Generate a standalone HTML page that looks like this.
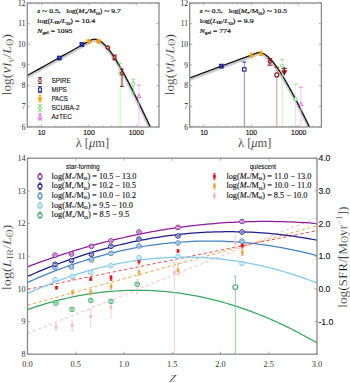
<!DOCTYPE html>
<html><head><meta charset="utf-8"><style>html,body{margin:0;padding:0;background:#fff;}svg{display:block;}</style></head><body>
<svg width="350" height="383" viewBox="0 0 350 383">
<rect width="350" height="383" fill="#fff"/>
<clipPath id="c27"><rect x="27.3" y="3" width="131.7" height="124"/></clipPath>
<g clip-path="url(#c27)">
<path d="M27.3,76.78 L27.74,76.53 L28.18,76.29 L28.62,76.04 L29.06,75.8 L29.5,75.55 L29.94,75.31 L30.38,75.06 L30.82,74.82 L31.26,74.57 L31.7,74.33 L32.15,74.08 L32.59,73.84 L33.03,73.59 L33.47,73.35 L33.91,73.1 L34.35,72.86 L34.79,72.61 L35.23,72.37 L35.67,72.12 L36.11,71.88 L36.55,71.63 L36.99,71.39 L37.43,71.15 L37.87,70.9 L38.31,70.66 L38.75,70.41 L39.19,70.17 L39.63,69.92 L40.07,69.68 L40.51,69.43 L40.95,69.19 L41.39,68.94 L41.84,68.7 L42.28,68.45 L42.72,68.21 L43.16,67.96 L43.6,67.72 L44.04,67.47 L44.48,67.23 L44.92,66.98 L45.36,66.74 L45.8,66.49 L46.24,66.25 L46.68,66 L47.12,65.76 L47.56,65.51 L48,65.27 L48.44,65.02 L48.88,64.78 L49.32,64.53 L49.76,64.29 L50.2,64.04 L50.64,63.8 L51.09,63.55 L51.53,63.31 L51.97,63.06 L52.41,62.82 L52.85,62.57 L53.29,62.33 L53.73,62.08 L54.17,61.84 L54.61,61.59 L55.05,61.35 L55.49,61.1 L55.93,60.86 L56.37,60.61 L56.81,60.37 L57.25,60.12 L57.69,59.88 L58.13,59.63 L58.57,59.39 L59.01,59.14 L59.45,58.9 L59.89,58.66 L60.34,58.41 L60.78,58.17 L61.22,57.92 L61.66,57.68 L62.1,57.43 L62.54,57.19 L62.98,56.94 L63.42,56.7 L63.86,56.45 L64.3,56.21 L64.74,55.96 L65.18,55.72 L65.62,55.47 L66.06,55.23 L66.5,54.98 L66.94,54.74 L67.38,54.49 L67.82,54.25 L68.26,54 L68.7,53.76 L69.14,53.51 L69.58,53.27 L70.03,53.02 L70.47,52.78 L70.91,52.53 L71.35,52.29 L71.79,52.04 L72.23,51.8 L72.67,51.55 L73.11,51.31 L73.55,51.06 L73.99,50.82 L74.43,50.57 L74.87,50.33 L75.31,50.08 L75.75,49.84 L76.19,49.59 L76.63,49.35 L77.07,49.1 L77.51,48.86 L77.95,48.61 L78.39,48.37 L78.83,48.12 L79.28,47.88 L79.72,47.63 L80.16,47.39 L80.6,47.14 L81.04,46.9 L81.48,46.65 L81.92,46.41 L82.36,46.17 L82.8,45.92 L83.24,45.68 L83.68,45.43 L84.12,45.19 L84.56,44.94 L85,44.7 L85.44,44.45 L85.88,44.21 L86.32,43.96 L86.76,43.72 L87.2,43.47 L87.64,43.23 L88.08,42.98 L88.53,42.74 L88.97,42.49 L89.41,42.25 L89.85,42 L90.29,41.76 L90.73,41.51 L91.17,41.29 L91.61,41.1 L92.05,40.94 L92.49,40.81 L92.93,40.7 L93.37,40.62 L93.81,40.57 L94.25,40.54 L94.69,40.54 L95.13,40.56 L95.57,40.61 L96.01,40.68 L96.45,40.77 L96.89,40.89 L97.33,41.03 L97.77,41.19 L98.22,41.36 L98.66,41.56 L99.1,41.78 L99.54,42.02 L99.98,42.28 L100.42,42.56 L100.86,42.86 L101.3,43.17 L101.74,43.5 L102.18,43.85 L102.62,44.21 L103.06,44.59 L103.5,44.98 L103.94,45.39 L104.38,45.82 L104.82,46.26 L105.26,46.71 L105.7,47.18 L106.14,47.66 L106.58,48.15 L107.02,48.66 L107.47,49.18 L107.91,49.71 L108.35,50.25 L108.79,50.81 L109.23,51.37 L109.67,51.95 L110.11,52.54 L110.55,53.14 L110.99,53.74 L111.43,54.36 L111.87,54.99 L112.31,55.62 L112.75,56.27 L113.19,56.92 L113.63,57.58 L114.07,58.26 L114.51,58.93 L114.95,59.62 L115.39,60.31 L115.83,61.02 L116.27,61.73 L116.72,62.44 L117.16,63.16 L117.6,63.89 L118.04,64.63 L118.48,65.37 L118.92,66.12 L119.36,66.87 L119.8,67.63 L120.24,68.4 L120.68,69.17 L121.12,69.95 L121.56,70.73 L122,71.52 L122.44,72.31 L122.88,73.11 L123.32,73.91 L123.76,74.71 L124.2,75.52 L124.64,76.34 L125.08,77.16 L125.52,77.98 L125.96,78.81 L126.41,79.64 L126.85,80.47 L127.29,81.31 L127.73,82.15 L128.17,83 L128.61,83.84 L129.05,84.7 L129.49,85.55 L129.93,86.41 L130.37,87.27 L130.81,88.13 L131.25,89 L131.69,89.87 L132.13,90.74 L132.57,91.62 L133.01,92.5 L133.45,93.38 L133.89,94.26 L134.33,95.14 L134.77,96.03 L135.21,96.92 L135.66,97.81 L136.1,98.71 L136.54,99.6 L136.98,100.5 L137.42,101.4 L137.86,102.3 L138.3,103.21 L138.74,104.11 L139.18,105.02 L139.62,105.93 L140.06,106.84 L140.5,107.75 L140.94,108.67 L141.38,109.59 L141.82,110.5 L142.26,111.42 L142.7,112.34 L143.14,113.26 L143.58,114.19 L144.02,115.11 L144.46,116.04 L144.91,116.97 L145.35,117.9 L145.79,118.83 L146.23,119.76 L146.67,120.69 L147.11,121.62 L147.55,122.56 L147.99,123.49 L148.43,124.43 L148.87,125.37 L149.31,126.31 L149.75,127.25 L150.19,128.19 L150.63,129.13 L151.07,130.07 L151.51,131.02 L151.95,131.96 L152.39,132.91 L152.83,133.85 L153.27,134.8 L153.71,135.75 L154.15,136.7 L154.6,137.65 L155.04,138.6 L155.48,139.55 L155.92,140.5 L156.36,141.45 L156.8,142.4 L157.24,143.36 L157.68,144.31 L158.12,145.27 L158.56,146.22 L159,147.18" fill="none" stroke="#cccccc" stroke-width="3.4"/>
<path d="M27.3,75.48 L27.74,75.23 L28.18,74.99 L28.62,74.74 L29.06,74.5 L29.5,74.25 L29.94,74.01 L30.38,73.76 L30.82,73.52 L31.26,73.27 L31.7,73.03 L32.15,72.78 L32.59,72.54 L33.03,72.29 L33.47,72.05 L33.91,71.8 L34.35,71.56 L34.79,71.31 L35.23,71.07 L35.67,70.82 L36.11,70.58 L36.55,70.33 L36.99,70.09 L37.43,69.85 L37.87,69.6 L38.31,69.36 L38.75,69.11 L39.19,68.87 L39.63,68.62 L40.07,68.38 L40.51,68.13 L40.95,67.89 L41.39,67.64 L41.84,67.4 L42.28,67.15 L42.72,66.91 L43.16,66.66 L43.6,66.42 L44.04,66.17 L44.48,65.93 L44.92,65.68 L45.36,65.44 L45.8,65.19 L46.24,64.95 L46.68,64.7 L47.12,64.46 L47.56,64.21 L48,63.97 L48.44,63.72 L48.88,63.48 L49.32,63.23 L49.76,62.99 L50.2,62.74 L50.64,62.5 L51.09,62.25 L51.53,62.01 L51.97,61.76 L52.41,61.52 L52.85,61.27 L53.29,61.03 L53.73,60.78 L54.17,60.54 L54.61,60.29 L55.05,60.05 L55.49,59.8 L55.93,59.56 L56.37,59.31 L56.81,59.07 L57.25,58.82 L57.69,58.58 L58.13,58.33 L58.57,58.09 L59.01,57.84 L59.45,57.6 L59.89,57.36 L60.34,57.11 L60.78,56.87 L61.22,56.62 L61.66,56.38 L62.1,56.13 L62.54,55.89 L62.98,55.64 L63.42,55.4 L63.86,55.15 L64.3,54.91 L64.74,54.66 L65.18,54.42 L65.62,54.17 L66.06,53.93 L66.5,53.68 L66.94,53.44 L67.38,53.19 L67.82,52.95 L68.26,52.7 L68.7,52.46 L69.14,52.21 L69.58,51.97 L70.03,51.72 L70.47,51.48 L70.91,51.23 L71.35,50.99 L71.79,50.74 L72.23,50.5 L72.67,50.25 L73.11,50.01 L73.55,49.76 L73.99,49.52 L74.43,49.27 L74.87,49.03 L75.31,48.78 L75.75,48.54 L76.19,48.29 L76.63,48.05 L77.07,47.8 L77.51,47.56 L77.95,47.31 L78.39,47.07 L78.83,46.82 L79.28,46.58 L79.72,46.33 L80.16,46.09 L80.6,45.84 L81.04,45.6 L81.48,45.35 L81.92,45.11 L82.36,44.87 L82.8,44.62 L83.24,44.38 L83.68,44.13 L84.12,43.89 L84.56,43.64 L85,43.4 L85.44,43.15 L85.88,42.91 L86.32,42.66 L86.76,42.42 L87.2,42.17 L87.64,41.93 L88.08,41.68 L88.53,41.44 L88.97,41.19 L89.41,40.95 L89.85,40.7 L90.29,40.46 L90.73,40.21 L91.17,39.99 L91.61,39.8 L92.05,39.64 L92.49,39.51 L92.93,39.4 L93.37,39.32 L93.81,39.27 L94.25,39.24 L94.69,39.24 L95.13,39.26 L95.57,39.31 L96.01,39.38 L96.45,39.47 L96.89,39.59 L97.33,39.73 L97.77,39.89 L98.22,40.06 L98.66,40.26 L99.1,40.48 L99.54,40.72 L99.98,40.98 L100.42,41.26 L100.86,41.56 L101.3,41.87 L101.74,42.2 L102.18,42.55 L102.62,42.91 L103.06,43.29 L103.5,43.68 L103.94,44.09 L104.38,44.52 L104.82,44.96 L105.26,45.41 L105.7,45.88 L106.14,46.36 L106.58,46.85 L107.02,47.36 L107.47,47.88 L107.91,48.41 L108.35,48.95 L108.79,49.51 L109.23,50.07 L109.67,50.65 L110.11,51.24 L110.55,51.84 L110.99,52.44 L111.43,53.06 L111.87,53.69 L112.31,54.32 L112.75,54.97 L113.19,55.62 L113.63,56.28 L114.07,56.96 L114.51,57.63 L114.95,58.32 L115.39,59.01 L115.83,59.72 L116.27,60.43 L116.72,61.14 L117.16,61.86 L117.6,62.59 L118.04,63.33 L118.48,64.07 L118.92,64.82 L119.36,65.57 L119.8,66.33 L120.24,67.1 L120.68,67.87 L121.12,68.65 L121.56,69.43 L122,70.22 L122.44,71.01 L122.88,71.81 L123.32,72.61 L123.76,73.41 L124.2,74.22 L124.64,75.04 L125.08,75.86 L125.52,76.68 L125.96,77.51 L126.41,78.34 L126.85,79.17 L127.29,80.01 L127.73,80.85 L128.17,81.7 L128.61,82.54 L129.05,83.4 L129.49,84.25 L129.93,85.11 L130.37,85.97 L130.81,86.83 L131.25,87.7 L131.69,88.57 L132.13,89.44 L132.57,90.32 L133.01,91.2 L133.45,92.08 L133.89,92.96 L134.33,93.84 L134.77,94.73 L135.21,95.62 L135.66,96.51 L136.1,97.41 L136.54,98.3 L136.98,99.2 L137.42,100.1 L137.86,101 L138.3,101.91 L138.74,102.81 L139.18,103.72 L139.62,104.63 L140.06,105.54 L140.5,106.45 L140.94,107.37 L141.38,108.29 L141.82,109.2 L142.26,110.12 L142.7,111.04 L143.14,111.96 L143.58,112.89 L144.02,113.81 L144.46,114.74 L144.91,115.67 L145.35,116.6 L145.79,117.53 L146.23,118.46 L146.67,119.39 L147.11,120.32 L147.55,121.26 L147.99,122.19 L148.43,123.13 L148.87,124.07 L149.31,125.01 L149.75,125.95 L150.19,126.89 L150.63,127.83 L151.07,128.77 L151.51,129.72 L151.95,130.66 L152.39,131.61 L152.83,132.55 L153.27,133.5 L153.71,134.45 L154.15,135.4 L154.6,136.35 L155.04,137.3 L155.48,138.25 L155.92,139.2 L156.36,140.15 L156.8,141.1 L157.24,142.06 L157.68,143.01 L158.12,143.97 L158.56,144.92 L159,145.88" fill="none" stroke="#111" stroke-width="1.25"/>
<rect x="57.4" y="56.1" width="3.8" height="3.8" fill="#1c2290" stroke="#1c2290" stroke-width="0.9"/>
<path d="M58.3,57.6 h2" stroke="#8a90d0" stroke-width="0.6"/>
<rect x="80" y="42.5" width="3.8" height="3.8" fill="#1c2290" stroke="#1c2290" stroke-width="0.9"/>
<path d="M80.9,44 h2" stroke="#8a90d0" stroke-width="0.6"/>
<path d="M88.8,38.9 l2.4,2.4 l-2.4,2.4 l-2.4,-2.4 z" fill="#f5a000" stroke="#f5a000" stroke-width="0.6"/>
<path d="M86.8,39.4 h4 M86.8,43.2 h4" stroke="#f5a000" stroke-width="0.8"/>
<path d="M98.5,38.9 l2.4,2.4 l-2.4,2.4 l-2.4,-2.4 z" fill="#f5a000" stroke="#f5a000" stroke-width="0.6"/>
<path d="M96.5,39.4 h4 M96.5,43.2 h4" stroke="#f5a000" stroke-width="0.8"/>
<circle cx="107.8" cy="47.6" r="1.8" fill="#fff" stroke="#8e1212" stroke-width="1.2"/>
<path d="M106.6,46.9 h2.4 M106.6,48.3 h2.4" stroke="#8e1212" stroke-width="0.7"/>
<path d="M114.6,55 V59.8" stroke="#8e1212" stroke-width="1.0" fill="none"/>
<path d="M112.3,55 h4.6 M112.3,59.8 h4.6" stroke="#8e1212" stroke-width="1.0" fill="none"/>
<circle cx="114.6" cy="57.4" r="1.6" fill="#fff" stroke="#8e1212" stroke-width="1.1"/>
<path d="M113.6,56.7 h2 M113.6,58.1 h2" stroke="#8e1212" stroke-width="0.7"/>
<path d="M120.2,63.1 V130" stroke="#b8f0b8" stroke-width="0.8" fill="none"/>
<path d="M118.3,63.1 h3.8 M118.3,130 h3.8" stroke="#66dd66" stroke-width="0.8" fill="none"/>
<path d="M122,69.1 V86.4" stroke="#8e1212" stroke-width="1.0" fill="none"/>
<path d="M120.1,69.1 h3.8 M120.1,86.4 h3.8" stroke="#8e1212" stroke-width="1.0" fill="none"/>
<circle cx="120.4" cy="73.4" r="1.7" fill="none" stroke="#66dd66" stroke-width="0.9"/>
<circle cx="122" cy="73.4" r="1.7" fill="none" stroke="#8e1212" stroke-width="1.0"/>
<path d="M133.3,79.1 V94.4" stroke="#66dd66" stroke-width="0.8" fill="none"/>
<path d="M131.5,79.1 h3.6 M131.5,94.4 h3.6" stroke="#66dd66" stroke-width="0.8" fill="none"/>
<circle cx="133.3" cy="83.8" r="1.7" fill="#fff" stroke="#66dd66" stroke-width="0.9"/>
<path d="M138.9,85.2 V130" stroke="#f2b4f2" stroke-width="0.8" fill="none"/>
<path d="M137,85.2 h3.8 M137,130 h3.8" stroke="#e060e0" stroke-width="0.8" fill="none"/>
<path d="M138.9,94 L140.9,97.6 L136.9,97.6 z" fill="#fff" stroke="#e060e0" stroke-width="0.9"/>
</g>
<rect x="27.3" y="3" width="131.7" height="124" fill="none" stroke="#8a8a8a" stroke-width="1.3"/>
<path d="M27.3,127 h2.5 M159,127 h-2.5" stroke="#8a8a8a" stroke-width="0.7"/>
<text x="25.6" y="129.5" font-family='"Liberation Serif", serif' font-size="7.5" text-anchor="end" font-weight="normal" font-style="normal" fill="#222" >6</text>
<path d="M27.3,106.33 h2.5 M159,106.33 h-2.5" stroke="#8a8a8a" stroke-width="0.7"/>
<text x="25.6" y="108.83" font-family='"Liberation Serif", serif' font-size="7.5" text-anchor="end" font-weight="normal" font-style="normal" fill="#222" >7</text>
<path d="M27.3,85.67 h2.5 M159,85.67 h-2.5" stroke="#8a8a8a" stroke-width="0.7"/>
<text x="25.6" y="88.17" font-family='"Liberation Serif", serif' font-size="7.5" text-anchor="end" font-weight="normal" font-style="normal" fill="#222" >8</text>
<path d="M27.3,65 h2.5 M159,65 h-2.5" stroke="#8a8a8a" stroke-width="0.7"/>
<text x="25.6" y="67.5" font-family='"Liberation Serif", serif' font-size="7.5" text-anchor="end" font-weight="normal" font-style="normal" fill="#222" >9</text>
<path d="M27.3,44.33 h2.5 M159,44.33 h-2.5" stroke="#8a8a8a" stroke-width="0.7"/>
<text x="25.6" y="46.83" font-family='"Liberation Serif", serif' font-size="7.5" text-anchor="end" font-weight="normal" font-style="normal" fill="#222" >10</text>
<path d="M27.3,23.67 h2.5 M159,23.67 h-2.5" stroke="#8a8a8a" stroke-width="0.7"/>
<text x="25.6" y="26.17" font-family='"Liberation Serif", serif' font-size="7.5" text-anchor="end" font-weight="normal" font-style="normal" fill="#222" >11</text>
<path d="M27.3,3 h2.5 M159,3 h-2.5" stroke="#8a8a8a" stroke-width="0.7"/>
<text x="25.6" y="5.5" font-family='"Liberation Serif", serif' font-size="7.5" text-anchor="end" font-weight="normal" font-style="normal" fill="#222" >12</text>
<path d="M27.3,127 v-1.4 M27.3,3 v1.4" stroke="#8a8a8a" stroke-width="0.6"/>
<path d="M31.05,127 v-1.4 M31.05,3 v1.4" stroke="#8a8a8a" stroke-width="0.6"/>
<path d="M34.23,127 v-1.4 M34.23,3 v1.4" stroke="#8a8a8a" stroke-width="0.6"/>
<path d="M36.98,127 v-1.4 M36.98,3 v1.4" stroke="#8a8a8a" stroke-width="0.6"/>
<path d="M39.4,127 v-1.4 M39.4,3 v1.4" stroke="#8a8a8a" stroke-width="0.6"/>
<path d="M41.57,127 v-2.6 M41.57,3 v2.6" stroke="#8a8a8a" stroke-width="0.6"/>
<path d="M55.84,127 v-1.4 M55.84,3 v1.4" stroke="#8a8a8a" stroke-width="0.6"/>
<path d="M64.19,127 v-1.4 M64.19,3 v1.4" stroke="#8a8a8a" stroke-width="0.6"/>
<path d="M70.11,127 v-1.4 M70.11,3 v1.4" stroke="#8a8a8a" stroke-width="0.6"/>
<path d="M74.71,127 v-1.4 M74.71,3 v1.4" stroke="#8a8a8a" stroke-width="0.6"/>
<path d="M78.46,127 v-1.4 M78.46,3 v1.4" stroke="#8a8a8a" stroke-width="0.6"/>
<path d="M81.63,127 v-1.4 M81.63,3 v1.4" stroke="#8a8a8a" stroke-width="0.6"/>
<path d="M84.38,127 v-1.4 M84.38,3 v1.4" stroke="#8a8a8a" stroke-width="0.6"/>
<path d="M86.81,127 v-1.4 M86.81,3 v1.4" stroke="#8a8a8a" stroke-width="0.6"/>
<path d="M88.98,127 v-2.6 M88.98,3 v2.6" stroke="#8a8a8a" stroke-width="0.6"/>
<path d="M103.25,127 v-1.4 M103.25,3 v1.4" stroke="#8a8a8a" stroke-width="0.6"/>
<path d="M111.59,127 v-1.4 M111.59,3 v1.4" stroke="#8a8a8a" stroke-width="0.6"/>
<path d="M117.52,127 v-1.4 M117.52,3 v1.4" stroke="#8a8a8a" stroke-width="0.6"/>
<path d="M122.11,127 v-1.4 M122.11,3 v1.4" stroke="#8a8a8a" stroke-width="0.6"/>
<path d="M125.86,127 v-1.4 M125.86,3 v1.4" stroke="#8a8a8a" stroke-width="0.6"/>
<path d="M129.04,127 v-1.4 M129.04,3 v1.4" stroke="#8a8a8a" stroke-width="0.6"/>
<path d="M131.79,127 v-1.4 M131.79,3 v1.4" stroke="#8a8a8a" stroke-width="0.6"/>
<path d="M134.21,127 v-1.4 M134.21,3 v1.4" stroke="#8a8a8a" stroke-width="0.6"/>
<path d="M136.38,127 v-2.6 M136.38,3 v2.6" stroke="#8a8a8a" stroke-width="0.6"/>
<path d="M150.65,127 v-1.4 M150.65,3 v1.4" stroke="#8a8a8a" stroke-width="0.6"/>
<path d="M159,127 v-1.4 M159,3 v1.4" stroke="#8a8a8a" stroke-width="0.6"/>
<text x="41.57" y="135" font-family='"Liberation Sans", sans-serif' font-size="6.9" text-anchor="middle" font-weight="normal" font-style="normal" fill="#111" stroke="#111" stroke-width="0.15">10</text>
<text x="88.98" y="135" font-family='"Liberation Sans", sans-serif' font-size="6.9" text-anchor="middle" font-weight="normal" font-style="normal" fill="#111" stroke="#111" stroke-width="0.15">100</text>
<text x="136.38" y="135" font-family='"Liberation Sans", sans-serif' font-size="6.9" text-anchor="middle" font-weight="normal" font-style="normal" fill="#111" stroke="#111" stroke-width="0.15">1000</text>
<text x="92.35" y="146.6" font-family='"Liberation Serif", serif' font-size="12.8" text-anchor="middle" font-weight="normal" font-style="normal" fill="#111" textLength="33.4" lengthAdjust="spacingAndGlyphs" stroke="#fff" stroke-width="0.2">λ [<tspan font-style="italic">μ</tspan>m]</text>
<text x="37.3" y="13.3" font-family='"Liberation Serif", serif' font-size="7" text-anchor="start" font-weight="normal" font-style="normal" fill="#111" textLength="83.5" lengthAdjust="spacingAndGlyphs" stroke="#111" stroke-width="0.2"><tspan font-style="italic">z</tspan> <tspan font-size="9" dy="0.8">~</tspan><tspan dy="-0.8"> 0.5,&#160;&#160; log(<tspan font-style="italic">M</tspan><tspan font-size="4.6" dy="1.2">*</tspan><tspan dy="-1.2">/M<tspan font-size="5" dy="1.3">ʘ</tspan><tspan dy="-1.3">) </tspan></tspan><tspan font-size="9" dy="0.8">~</tspan><tspan dy="-0.8"> 9.7</tspan></tspan></tspan></text>
<text x="37.3" y="23.3" font-family='"Liberation Serif", serif' font-size="7" text-anchor="start" font-weight="normal" font-style="normal" fill="#111" textLength="58" lengthAdjust="spacingAndGlyphs" stroke="#111" stroke-width="0.2">log(<tspan font-style="italic">L</tspan><tspan font-size="4.6" dy="1.0">IR</tspan><tspan dy="-1.0">/<tspan font-style="italic">L</tspan><tspan font-size="5" dy="1.3">ʘ</tspan><tspan dy="-1.3">)&#160;=&#160;10.4</tspan></tspan></text>
<text x="37.3" y="33.3" font-family='"Liberation Serif", serif' font-size="7" text-anchor="start" font-weight="normal" font-style="normal" fill="#111" textLength="35" lengthAdjust="spacingAndGlyphs" stroke="#111" stroke-width="0.2"><tspan font-style="italic">N</tspan><tspan font-size="4.8" dy="1.0">gal</tspan><tspan dy="-1.0">&#160;=&#160;1095</tspan></text>
<path d="M40,77.5 V83.5" stroke="#8e1212" stroke-width="0.9" fill="none"/>
<path d="M38.1,77.5 h3.8 M38.1,83.5 h3.8" stroke="#8e1212" stroke-width="0.9" fill="none"/>
<circle cx="40" cy="80.5" r="1.6" fill="#fff" stroke="#8e1212" stroke-width="1.0"/>
<text x="51.4" y="83" font-family='"Liberation Sans", sans-serif' font-size="7" text-anchor="start" font-weight="normal" font-style="normal" fill="#111" textLength="19.4" lengthAdjust="spacingAndGlyphs" stroke="#111" stroke-width="0.12">SPIRE</text>
<path d="M40,86.62 V92.62" stroke="#1c2290" stroke-width="0.9" fill="none"/>
<path d="M38.1,86.62 h3.8 M38.1,92.62 h3.8" stroke="#1c2290" stroke-width="0.9" fill="none"/>
<rect x="38.4" y="88.02" width="3.2" height="3.2" fill="#fff" stroke="#1c2290" stroke-width="1.0"/>
<text x="51.4" y="92.12" font-family='"Liberation Sans", sans-serif' font-size="7" text-anchor="start" font-weight="normal" font-style="normal" fill="#111" textLength="15.4" lengthAdjust="spacingAndGlyphs" stroke="#111" stroke-width="0.12">MIPS</text>
<path d="M40,95.74 V101.74" stroke="#f5a000" stroke-width="0.9" fill="none"/>
<path d="M38.1,95.74 h3.8 M38.1,101.74 h3.8" stroke="#f5a000" stroke-width="0.9" fill="none"/>
<path d="M40,96.64 l2.1,2.1 l-2.1,2.1 l-2.1,-2.1 z" fill="#f5a000" stroke="#f5a000" stroke-width="0.6"/>
<text x="51.4" y="101.24" font-family='"Liberation Sans", sans-serif' font-size="7" text-anchor="start" font-weight="normal" font-style="normal" fill="#111" textLength="16.6" lengthAdjust="spacingAndGlyphs" stroke="#111" stroke-width="0.12">PACS</text>
<path d="M40,104.86 V110.86" stroke="#66dd66" stroke-width="0.9" fill="none"/>
<path d="M38.1,104.86 h3.8 M38.1,110.86 h3.8" stroke="#66dd66" stroke-width="0.9" fill="none"/>
<circle cx="40" cy="107.86" r="1.6" fill="#fff" stroke="#66dd66" stroke-width="1.0"/>
<text x="51.4" y="110.36" font-family='"Liberation Sans", sans-serif' font-size="7" text-anchor="start" font-weight="normal" font-style="normal" fill="#111" textLength="28.3" lengthAdjust="spacingAndGlyphs" stroke="#111" stroke-width="0.12">SCUBA-2</text>
<path d="M40,113.98 V119.98" stroke="#e060e0" stroke-width="0.9" fill="none"/>
<path d="M38.1,113.98 h3.8 M38.1,119.98 h3.8" stroke="#e060e0" stroke-width="0.9" fill="none"/>
<path d="M40,114.98 L42,118.58 L38,118.58 z" fill="#fff" stroke="#e060e0" stroke-width="0.9"/>
<text x="51.4" y="119.48" font-family='"Liberation Sans", sans-serif' font-size="7" text-anchor="start" font-weight="normal" font-style="normal" fill="#111" textLength="20.6" lengthAdjust="spacingAndGlyphs" stroke="#111" stroke-width="0.12">AzTEC</text>
<clipPath id="c189"><rect x="189.7" y="3" width="131.7" height="124"/></clipPath>
<g clip-path="url(#c189)">
<path d="M189.7,79.23 L190.14,79.07 L190.58,78.9 L191.02,78.74 L191.46,78.57 L191.9,78.41 L192.34,78.25 L192.78,78.08 L193.22,77.92 L193.66,77.76 L194.1,77.59 L194.55,77.43 L194.99,77.26 L195.43,77.1 L195.87,76.94 L196.31,76.77 L196.75,76.61 L197.19,76.45 L197.63,76.28 L198.07,76.12 L198.51,75.96 L198.95,75.79 L199.39,75.63 L199.83,75.46 L200.27,75.3 L200.71,75.14 L201.15,74.97 L201.59,74.81 L202.03,74.65 L202.47,74.48 L202.91,74.32 L203.35,74.16 L203.79,73.99 L204.24,73.83 L204.68,73.66 L205.12,73.5 L205.56,73.34 L206,73.17 L206.44,73.01 L206.88,72.85 L207.32,72.68 L207.76,72.52 L208.2,72.35 L208.64,72.19 L209.08,72.03 L209.52,71.86 L209.96,71.7 L210.4,71.54 L210.84,71.37 L211.28,71.21 L211.72,71.05 L212.16,70.88 L212.6,70.72 L213.04,70.55 L213.49,70.39 L213.93,70.23 L214.37,70.06 L214.81,69.9 L215.25,69.74 L215.69,69.57 L216.13,69.41 L216.57,69.25 L217.01,69.08 L217.45,68.92 L217.89,68.75 L218.33,68.59 L218.77,68.43 L219.21,68.26 L219.65,68.1 L220.09,67.94 L220.53,67.77 L220.97,67.61 L221.41,67.44 L221.85,67.28 L222.29,67.12 L222.74,66.95 L223.18,66.79 L223.62,66.63 L224.06,66.46 L224.5,66.3 L224.94,66.14 L225.38,65.97 L225.82,65.81 L226.26,65.64 L226.7,65.48 L227.14,65.32 L227.58,65.15 L228.02,64.99 L228.46,64.83 L228.9,64.66 L229.34,64.5 L229.78,64.33 L230.22,64.17 L230.66,64.01 L231.1,63.84 L231.54,63.68 L231.98,63.52 L232.43,63.35 L232.87,63.19 L233.31,63.03 L233.75,62.86 L234.19,62.7 L234.63,62.53 L235.07,62.37 L235.51,62.21 L235.95,62.04 L236.39,61.88 L236.83,61.72 L237.27,61.55 L237.71,61.39 L238.15,61.23 L238.59,61.06 L239.03,60.9 L239.47,60.73 L239.91,60.57 L240.35,60.41 L240.79,60.24 L241.23,60.08 L241.68,59.92 L242.12,59.75 L242.56,59.59 L243,59.42 L243.44,59.26 L243.88,59.1 L244.32,58.93 L244.76,58.77 L245.2,58.61 L245.64,58.44 L246.08,58.28 L246.52,58.12 L246.96,57.95 L247.4,57.79 L247.84,57.62 L248.28,57.46 L248.72,57.3 L249.16,57.13 L249.6,56.97 L250.04,56.81 L250.48,56.64 L250.93,56.48 L251.37,56.32 L251.81,56.15 L252.25,55.99 L252.69,55.82 L253.13,55.66 L253.57,55.5 L254.01,55.33 L254.45,55.17 L254.89,55.01 L255.33,54.84 L255.77,54.68 L256.21,54.51 L256.65,54.35 L257.09,54.22 L257.53,54.11 L257.97,54.02 L258.41,53.97 L258.85,53.93 L259.29,53.93 L259.73,53.94 L260.17,53.98 L260.62,54.05 L261.06,54.13 L261.5,54.24 L261.94,54.37 L262.38,54.52 L262.82,54.69 L263.26,54.88 L263.7,55.1 L264.14,55.33 L264.58,55.58 L265.02,55.84 L265.46,56.13 L265.9,56.43 L266.34,56.75 L266.78,57.09 L267.22,57.44 L267.66,57.81 L268.1,58.19 L268.54,58.59 L268.98,59 L269.42,59.43 L269.87,59.87 L270.31,60.33 L270.75,60.79 L271.19,61.27 L271.63,61.77 L272.07,62.27 L272.51,62.79 L272.95,63.32 L273.39,63.86 L273.83,64.41 L274.27,64.97 L274.71,65.55 L275.15,66.13 L275.59,66.72 L276.03,67.32 L276.47,67.93 L276.91,68.56 L277.35,69.18 L277.79,69.82 L278.23,70.47 L278.67,71.12 L279.12,71.79 L279.56,72.46 L280,73.13 L280.44,73.82 L280.88,74.51 L281.32,75.21 L281.76,75.91 L282.2,76.63 L282.64,77.35 L283.08,78.07 L283.52,78.8 L283.96,79.54 L284.4,80.28 L284.84,81.03 L285.28,81.78 L285.72,82.54 L286.16,83.3 L286.6,84.07 L287.04,84.85 L287.48,85.62 L287.92,86.41 L288.36,87.19 L288.81,87.99 L289.25,88.78 L289.69,89.58 L290.13,90.39 L290.57,91.19 L291.01,92.01 L291.45,92.82 L291.89,93.64 L292.33,94.46 L292.77,95.29 L293.21,96.12 L293.65,96.95 L294.09,97.79 L294.53,98.62 L294.97,99.47 L295.41,100.31 L295.85,101.16 L296.29,102.01 L296.73,102.86 L297.17,103.72 L297.61,104.57 L298.06,105.43 L298.5,106.3 L298.94,107.16 L299.38,108.03 L299.82,108.9 L300.26,109.77 L300.7,110.64 L301.14,111.52 L301.58,112.4 L302.02,113.28 L302.46,114.16 L302.9,115.04 L303.34,115.93 L303.78,116.82 L304.22,117.71 L304.66,118.6 L305.1,119.49 L305.54,120.38 L305.98,121.28 L306.42,122.18 L306.86,123.08 L307.31,123.98 L307.75,124.88 L308.19,125.78 L308.63,126.68 L309.07,127.59 L309.51,128.5 L309.95,129.41 L310.39,130.31 L310.83,131.23 L311.27,132.14 L311.71,133.05 L312.15,133.96 L312.59,134.88 L313.03,135.79 L313.47,136.71 L313.91,137.63 L314.35,138.55 L314.79,139.47 L315.23,140.39 L315.67,141.31 L316.11,142.24 L316.55,143.16 L317,144.08 L317.44,145.01 L317.88,145.94 L318.32,146.86 L318.76,147.79 L319.2,148.72 L319.64,149.65 L320.08,150.58 L320.52,151.51 L320.96,152.44 L321.4,153.37" fill="none" stroke="#cccccc" stroke-width="3.4"/>
<path d="M189.7,77.93 L190.14,77.77 L190.58,77.6 L191.02,77.44 L191.46,77.27 L191.9,77.11 L192.34,76.95 L192.78,76.78 L193.22,76.62 L193.66,76.46 L194.1,76.29 L194.55,76.13 L194.99,75.96 L195.43,75.8 L195.87,75.64 L196.31,75.47 L196.75,75.31 L197.19,75.15 L197.63,74.98 L198.07,74.82 L198.51,74.66 L198.95,74.49 L199.39,74.33 L199.83,74.16 L200.27,74 L200.71,73.84 L201.15,73.67 L201.59,73.51 L202.03,73.35 L202.47,73.18 L202.91,73.02 L203.35,72.86 L203.79,72.69 L204.24,72.53 L204.68,72.36 L205.12,72.2 L205.56,72.04 L206,71.87 L206.44,71.71 L206.88,71.55 L207.32,71.38 L207.76,71.22 L208.2,71.05 L208.64,70.89 L209.08,70.73 L209.52,70.56 L209.96,70.4 L210.4,70.24 L210.84,70.07 L211.28,69.91 L211.72,69.75 L212.16,69.58 L212.6,69.42 L213.04,69.25 L213.49,69.09 L213.93,68.93 L214.37,68.76 L214.81,68.6 L215.25,68.44 L215.69,68.27 L216.13,68.11 L216.57,67.95 L217.01,67.78 L217.45,67.62 L217.89,67.45 L218.33,67.29 L218.77,67.13 L219.21,66.96 L219.65,66.8 L220.09,66.64 L220.53,66.47 L220.97,66.31 L221.41,66.14 L221.85,65.98 L222.29,65.82 L222.74,65.65 L223.18,65.49 L223.62,65.33 L224.06,65.16 L224.5,65 L224.94,64.84 L225.38,64.67 L225.82,64.51 L226.26,64.34 L226.7,64.18 L227.14,64.02 L227.58,63.85 L228.02,63.69 L228.46,63.53 L228.9,63.36 L229.34,63.2 L229.78,63.03 L230.22,62.87 L230.66,62.71 L231.1,62.54 L231.54,62.38 L231.98,62.22 L232.43,62.05 L232.87,61.89 L233.31,61.73 L233.75,61.56 L234.19,61.4 L234.63,61.23 L235.07,61.07 L235.51,60.91 L235.95,60.74 L236.39,60.58 L236.83,60.42 L237.27,60.25 L237.71,60.09 L238.15,59.93 L238.59,59.76 L239.03,59.6 L239.47,59.43 L239.91,59.27 L240.35,59.11 L240.79,58.94 L241.23,58.78 L241.68,58.62 L242.12,58.45 L242.56,58.29 L243,58.12 L243.44,57.96 L243.88,57.8 L244.32,57.63 L244.76,57.47 L245.2,57.31 L245.64,57.14 L246.08,56.98 L246.52,56.82 L246.96,56.65 L247.4,56.49 L247.84,56.32 L248.28,56.16 L248.72,56 L249.16,55.83 L249.6,55.67 L250.04,55.51 L250.48,55.34 L250.93,55.18 L251.37,55.02 L251.81,54.85 L252.25,54.69 L252.69,54.52 L253.13,54.36 L253.57,54.2 L254.01,54.03 L254.45,53.87 L254.89,53.71 L255.33,53.54 L255.77,53.38 L256.21,53.21 L256.65,53.05 L257.09,52.92 L257.53,52.81 L257.97,52.72 L258.41,52.67 L258.85,52.63 L259.29,52.63 L259.73,52.64 L260.17,52.68 L260.62,52.75 L261.06,52.83 L261.5,52.94 L261.94,53.07 L262.38,53.22 L262.82,53.39 L263.26,53.58 L263.7,53.8 L264.14,54.03 L264.58,54.28 L265.02,54.54 L265.46,54.83 L265.9,55.13 L266.34,55.45 L266.78,55.79 L267.22,56.14 L267.66,56.51 L268.1,56.89 L268.54,57.29 L268.98,57.7 L269.42,58.13 L269.87,58.57 L270.31,59.03 L270.75,59.49 L271.19,59.97 L271.63,60.47 L272.07,60.97 L272.51,61.49 L272.95,62.02 L273.39,62.56 L273.83,63.11 L274.27,63.67 L274.71,64.25 L275.15,64.83 L275.59,65.42 L276.03,66.02 L276.47,66.63 L276.91,67.26 L277.35,67.88 L277.79,68.52 L278.23,69.17 L278.67,69.82 L279.12,70.49 L279.56,71.16 L280,71.83 L280.44,72.52 L280.88,73.21 L281.32,73.91 L281.76,74.61 L282.2,75.33 L282.64,76.05 L283.08,76.77 L283.52,77.5 L283.96,78.24 L284.4,78.98 L284.84,79.73 L285.28,80.48 L285.72,81.24 L286.16,82 L286.6,82.77 L287.04,83.55 L287.48,84.32 L287.92,85.11 L288.36,85.89 L288.81,86.69 L289.25,87.48 L289.69,88.28 L290.13,89.09 L290.57,89.89 L291.01,90.71 L291.45,91.52 L291.89,92.34 L292.33,93.16 L292.77,93.99 L293.21,94.82 L293.65,95.65 L294.09,96.49 L294.53,97.32 L294.97,98.17 L295.41,99.01 L295.85,99.86 L296.29,100.71 L296.73,101.56 L297.17,102.42 L297.61,103.27 L298.06,104.13 L298.5,105 L298.94,105.86 L299.38,106.73 L299.82,107.6 L300.26,108.47 L300.7,109.34 L301.14,110.22 L301.58,111.1 L302.02,111.98 L302.46,112.86 L302.9,113.74 L303.34,114.63 L303.78,115.52 L304.22,116.41 L304.66,117.3 L305.1,118.19 L305.54,119.08 L305.98,119.98 L306.42,120.88 L306.86,121.78 L307.31,122.68 L307.75,123.58 L308.19,124.48 L308.63,125.38 L309.07,126.29 L309.51,127.2 L309.95,128.11 L310.39,129.01 L310.83,129.93 L311.27,130.84 L311.71,131.75 L312.15,132.66 L312.59,133.58 L313.03,134.49 L313.47,135.41 L313.91,136.33 L314.35,137.25 L314.79,138.17 L315.23,139.09 L315.67,140.01 L316.11,140.94 L316.55,141.86 L317,142.78 L317.44,143.71 L317.88,144.64 L318.32,145.56 L318.76,146.49 L319.2,147.42 L319.64,148.35 L320.08,149.28 L320.52,150.21 L320.96,151.14 L321.4,152.07" fill="none" stroke="#111" stroke-width="1.25"/>
<rect x="219.4" y="64.2" width="3.8" height="3.8" fill="#1c2290" stroke="#1c2290" stroke-width="0.9"/>
<path d="M220.3,65.7 h2" stroke="#8a90d0" stroke-width="0.6"/>
<path d="M244.3,62 V130" stroke="#7474d2" stroke-width="0.9" fill="none"/>
<path d="M242.3,62 h4 M242.3,130 h4" stroke="#1c2290" stroke-width="0.9" fill="none"/>
<rect x="242.6" y="67.7" width="3.4" height="3.4" fill="#fff" stroke="#1c2290" stroke-width="1.1"/>
<path d="M251.3,53 V57.4" stroke="#f5a000" stroke-width="0.9" fill="none"/>
<path d="M249.6,53 h3.4 M249.6,57.4 h3.4" stroke="#f5a000" stroke-width="0.9" fill="none"/>
<path d="M251.3,53.3 l1.9,1.9 l-1.9,1.9 l-1.9,-1.9 z" fill="#f5a000" stroke="#f5a000" stroke-width="0.6"/>
<path d="M260.9,51.1 V55.5" stroke="#f5a000" stroke-width="0.9" fill="none"/>
<path d="M259.2,51.1 h3.4 M259.2,55.5 h3.4" stroke="#f5a000" stroke-width="0.9" fill="none"/>
<path d="M260.9,51.4 l1.9,1.9 l-1.9,1.9 l-1.9,-1.9 z" fill="#f5a000" stroke="#f5a000" stroke-width="0.6"/>
<path d="M269.8,58.6 V65.2" stroke="#8e1212" stroke-width="1.0" fill="none"/>
<path d="M267.3,58.6 h5 M267.3,65.2 h5" stroke="#8e1212" stroke-width="1.0" fill="none"/>
<circle cx="269.8" cy="61.7" r="1.6" fill="#fff" stroke="#8e1212" stroke-width="1.1"/>
<path d="M268.8,61 h2 M268.8,62.4 h2" stroke="#8e1212" stroke-width="0.7"/>
<path d="M276.8,67.3 V130" stroke="#d38c8c" stroke-width="0.9" fill="none"/>
<path d="M274.6,67.3 h4.4 M274.6,130 h4.4" stroke="#8e1212" stroke-width="0.9" fill="none"/>
<circle cx="276.8" cy="74.9" r="2" fill="#fff" stroke="#8e1212" stroke-width="1.1"/>
<path d="M282.3,59.7 V130" stroke="#b8f0b8" stroke-width="0.8" fill="none"/>
<path d="M280.3,59.7 h4 M280.3,130 h4" stroke="#66dd66" stroke-width="0.8" fill="none"/>
<circle cx="282.3" cy="66" r="1.7" fill="#fff" stroke="#66dd66" stroke-width="0.9"/>
<path d="M284.3,67.2 V72" stroke="#8e1212" stroke-width="1.4"/><path d="M281.3,70.2 L287.3,70.2 L284.3,75.8 z" fill="#8e1212"/><path d="M281.8,68.6 h5" stroke="#8e1212" stroke-width="0.9"/>
<path d="M295.7,84.2 V130" stroke="#b8f0b8" stroke-width="0.8" fill="none"/>
<path d="M293.7,84.2 h4 M293.7,130 h4" stroke="#66dd66" stroke-width="0.8" fill="none"/>
<circle cx="295.7" cy="99.1" r="1.6" fill="#fff" stroke="#66dd66" stroke-width="0.9"/>
<path d="M300.9,87.1 V130" stroke="#f2b4f2" stroke-width="0.8" fill="none"/>
<path d="M298.9,87.1 h4 M298.9,130 h4" stroke="#e060e0" stroke-width="0.8" fill="none"/>
<path d="M300.9,101.9 L302.9,105.5 L298.9,105.5 z" fill="#fff" stroke="#e060e0" stroke-width="0.9"/>
</g>
<rect x="189.7" y="3" width="131.7" height="124" fill="none" stroke="#8a8a8a" stroke-width="1.3"/>
<path d="M189.7,127 h2.5 M321.4,127 h-2.5" stroke="#8a8a8a" stroke-width="0.7"/>
<text x="188" y="129.5" font-family='"Liberation Serif", serif' font-size="7.5" text-anchor="end" font-weight="normal" font-style="normal" fill="#222" >6</text>
<path d="M189.7,106.33 h2.5 M321.4,106.33 h-2.5" stroke="#8a8a8a" stroke-width="0.7"/>
<text x="188" y="108.83" font-family='"Liberation Serif", serif' font-size="7.5" text-anchor="end" font-weight="normal" font-style="normal" fill="#222" >7</text>
<path d="M189.7,85.67 h2.5 M321.4,85.67 h-2.5" stroke="#8a8a8a" stroke-width="0.7"/>
<text x="188" y="88.17" font-family='"Liberation Serif", serif' font-size="7.5" text-anchor="end" font-weight="normal" font-style="normal" fill="#222" >8</text>
<path d="M189.7,65 h2.5 M321.4,65 h-2.5" stroke="#8a8a8a" stroke-width="0.7"/>
<text x="188" y="67.5" font-family='"Liberation Serif", serif' font-size="7.5" text-anchor="end" font-weight="normal" font-style="normal" fill="#222" >9</text>
<path d="M189.7,44.33 h2.5 M321.4,44.33 h-2.5" stroke="#8a8a8a" stroke-width="0.7"/>
<text x="188" y="46.83" font-family='"Liberation Serif", serif' font-size="7.5" text-anchor="end" font-weight="normal" font-style="normal" fill="#222" >10</text>
<path d="M189.7,23.67 h2.5 M321.4,23.67 h-2.5" stroke="#8a8a8a" stroke-width="0.7"/>
<text x="188" y="26.17" font-family='"Liberation Serif", serif' font-size="7.5" text-anchor="end" font-weight="normal" font-style="normal" fill="#222" >11</text>
<path d="M189.7,3 h2.5 M321.4,3 h-2.5" stroke="#8a8a8a" stroke-width="0.7"/>
<text x="188" y="5.5" font-family='"Liberation Serif", serif' font-size="7.5" text-anchor="end" font-weight="normal" font-style="normal" fill="#222" >12</text>
<path d="M189.7,127 v-1.4 M189.7,3 v1.4" stroke="#8a8a8a" stroke-width="0.6"/>
<path d="M193.45,127 v-1.4 M193.45,3 v1.4" stroke="#8a8a8a" stroke-width="0.6"/>
<path d="M196.63,127 v-1.4 M196.63,3 v1.4" stroke="#8a8a8a" stroke-width="0.6"/>
<path d="M199.38,127 v-1.4 M199.38,3 v1.4" stroke="#8a8a8a" stroke-width="0.6"/>
<path d="M201.8,127 v-1.4 M201.8,3 v1.4" stroke="#8a8a8a" stroke-width="0.6"/>
<path d="M203.97,127 v-2.6 M203.97,3 v2.6" stroke="#8a8a8a" stroke-width="0.6"/>
<path d="M218.24,127 v-1.4 M218.24,3 v1.4" stroke="#8a8a8a" stroke-width="0.6"/>
<path d="M226.59,127 v-1.4 M226.59,3 v1.4" stroke="#8a8a8a" stroke-width="0.6"/>
<path d="M232.51,127 v-1.4 M232.51,3 v1.4" stroke="#8a8a8a" stroke-width="0.6"/>
<path d="M237.11,127 v-1.4 M237.11,3 v1.4" stroke="#8a8a8a" stroke-width="0.6"/>
<path d="M240.86,127 v-1.4 M240.86,3 v1.4" stroke="#8a8a8a" stroke-width="0.6"/>
<path d="M244.03,127 v-1.4 M244.03,3 v1.4" stroke="#8a8a8a" stroke-width="0.6"/>
<path d="M246.78,127 v-1.4 M246.78,3 v1.4" stroke="#8a8a8a" stroke-width="0.6"/>
<path d="M249.21,127 v-1.4 M249.21,3 v1.4" stroke="#8a8a8a" stroke-width="0.6"/>
<path d="M251.38,127 v-2.6 M251.38,3 v2.6" stroke="#8a8a8a" stroke-width="0.6"/>
<path d="M265.65,127 v-1.4 M265.65,3 v1.4" stroke="#8a8a8a" stroke-width="0.6"/>
<path d="M273.99,127 v-1.4 M273.99,3 v1.4" stroke="#8a8a8a" stroke-width="0.6"/>
<path d="M279.92,127 v-1.4 M279.92,3 v1.4" stroke="#8a8a8a" stroke-width="0.6"/>
<path d="M284.51,127 v-1.4 M284.51,3 v1.4" stroke="#8a8a8a" stroke-width="0.6"/>
<path d="M288.26,127 v-1.4 M288.26,3 v1.4" stroke="#8a8a8a" stroke-width="0.6"/>
<path d="M291.44,127 v-1.4 M291.44,3 v1.4" stroke="#8a8a8a" stroke-width="0.6"/>
<path d="M294.19,127 v-1.4 M294.19,3 v1.4" stroke="#8a8a8a" stroke-width="0.6"/>
<path d="M296.61,127 v-1.4 M296.61,3 v1.4" stroke="#8a8a8a" stroke-width="0.6"/>
<path d="M298.78,127 v-2.6 M298.78,3 v2.6" stroke="#8a8a8a" stroke-width="0.6"/>
<path d="M313.05,127 v-1.4 M313.05,3 v1.4" stroke="#8a8a8a" stroke-width="0.6"/>
<path d="M321.4,127 v-1.4 M321.4,3 v1.4" stroke="#8a8a8a" stroke-width="0.6"/>
<text x="203.97" y="135" font-family='"Liberation Sans", sans-serif' font-size="6.9" text-anchor="middle" font-weight="normal" font-style="normal" fill="#111" stroke="#111" stroke-width="0.15">10</text>
<text x="251.38" y="135" font-family='"Liberation Sans", sans-serif' font-size="6.9" text-anchor="middle" font-weight="normal" font-style="normal" fill="#111" stroke="#111" stroke-width="0.15">100</text>
<text x="298.78" y="135" font-family='"Liberation Sans", sans-serif' font-size="6.9" text-anchor="middle" font-weight="normal" font-style="normal" fill="#111" stroke="#111" stroke-width="0.15">1000</text>
<text x="254.75" y="146.6" font-family='"Liberation Serif", serif' font-size="12.8" text-anchor="middle" font-weight="normal" font-style="normal" fill="#111" textLength="33.4" lengthAdjust="spacingAndGlyphs" stroke="#fff" stroke-width="0.2">λ [<tspan font-style="italic">μ</tspan>m]</text>
<text x="199.7" y="13.3" font-family='"Liberation Serif", serif' font-size="7" text-anchor="start" font-weight="normal" font-style="normal" fill="#111" textLength="87.3" lengthAdjust="spacingAndGlyphs" stroke="#111" stroke-width="0.2"><tspan font-style="italic">z</tspan> <tspan font-size="9" dy="0.8">~</tspan><tspan dy="-0.8"> 0.5,&#160;&#160; log(<tspan font-style="italic">M</tspan><tspan font-size="4.6" dy="1.2">*</tspan><tspan dy="-1.2">/M<tspan font-size="5" dy="1.3">ʘ</tspan><tspan dy="-1.3">) </tspan></tspan><tspan font-size="9" dy="0.8">~</tspan><tspan dy="-0.8"> 10.5</tspan></tspan></tspan></text>
<text x="199.7" y="23.3" font-family='"Liberation Serif", serif' font-size="7" text-anchor="start" font-weight="normal" font-style="normal" fill="#111" textLength="54" lengthAdjust="spacingAndGlyphs" stroke="#111" stroke-width="0.2">log(<tspan font-style="italic">L</tspan><tspan font-size="4.6" dy="1.0">IR</tspan><tspan dy="-1.0">/<tspan font-style="italic">L</tspan><tspan font-size="5" dy="1.3">ʘ</tspan><tspan dy="-1.3">)&#160;=&#160;9.9</tspan></tspan></text>
<text x="199.7" y="33.3" font-family='"Liberation Serif", serif' font-size="7" text-anchor="start" font-weight="normal" font-style="normal" fill="#111" textLength="31" lengthAdjust="spacingAndGlyphs" stroke="#111" stroke-width="0.2"><tspan font-style="italic">N</tspan><tspan font-size="4.8" dy="1.0">gal</tspan><tspan dy="-1.0">&#160;=&#160;774</tspan></text>
<text transform="translate(11.2,64.6) rotate(-90)" x="0" y="0" text-anchor="middle" font-family='"Liberation Serif", serif' font-size="12.4" fill="#111" stroke="#fff" stroke-width="0.22" textLength="61.2" lengthAdjust="spacingAndGlyphs">log<tspan font-size="13.5">(</tspan><tspan font-style="italic" font-size="14">ν</tspan><tspan font-style="italic">I</tspan><tspan font-style="italic" font-size="10" dy="2.4">ν</tspan><tspan dy="-2.4" font-size="13.5">/</tspan><tspan font-style="italic" font-size="13">L</tspan><tspan font-size="9.5" dy="1.6">ʘ</tspan><tspan dy="-1.6"><tspan font-size="13.5">)</tspan></tspan></text>
<text transform="translate(173.6,64.6) rotate(-90)" x="0" y="0" text-anchor="middle" font-family='"Liberation Serif", serif' font-size="12.4" fill="#111" stroke="#fff" stroke-width="0.22" textLength="61.2" lengthAdjust="spacingAndGlyphs">log<tspan font-size="13.5">(</tspan><tspan font-style="italic" font-size="14">ν</tspan><tspan font-style="italic">I</tspan><tspan font-style="italic" font-size="10" dy="2.4">ν</tspan><tspan dy="-2.4" font-size="13.5">/</tspan><tspan font-style="italic" font-size="13">L</tspan><tspan font-size="9.5" dy="1.6">ʘ</tspan><tspan dy="-1.6"><tspan font-size="13.5">)</tspan></tspan></text>
<clipPath id="cb"><rect x="27.5" y="158.2" width="289.5" height="196"/></clipPath>
<g clip-path="url(#cb)">
<path d="M27.5,333.5 L317,217.6" stroke="#f6b8c6" stroke-width="1.0" stroke-dasharray="3.2,2.6" fill="none"/>
<path d="M27.5,305.2 L317,225.8" stroke="#eaa640" stroke-width="1.0" stroke-dasharray="3.2,2.6" fill="none"/>
<path d="M27.5,289.4 L317,230.6" stroke="#f24a4a" stroke-width="1.0" stroke-dasharray="3.2,2.6" fill="none"/>
<path d="M27.5,309.65 L31.16,308.37 L34.83,307.13 L38.49,305.94 L42.16,304.8 L45.82,303.69 L49.49,302.63 L53.15,301.62 L56.82,300.64 L60.48,299.72 L64.15,298.83 L67.81,297.99 L71.47,297.19 L75.14,296.43 L78.8,295.72 L82.47,295.05 L86.13,294.43 L89.8,293.85 L93.46,293.31 L97.13,292.82 L100.79,292.37 L104.46,291.96 L108.12,291.6 L111.78,291.28 L115.45,291 L119.11,290.77 L122.78,290.58 L126.44,290.44 L130.11,290.34 L133.77,290.28 L137.44,290.26 L141.1,290.29 L144.77,290.37 L148.43,290.48 L152.09,290.64 L155.76,290.84 L159.42,291.09 L163.09,291.38 L166.75,291.72 L170.42,292.09 L174.08,292.51 L177.75,292.98 L181.41,293.49 L185.08,294.04 L188.74,294.63 L192.41,295.27 L196.07,295.96 L199.73,296.68 L203.4,297.45 L207.06,298.27 L210.73,299.12 L214.39,300.02 L218.06,300.97 L221.72,301.95 L225.39,302.98 L229.05,304.06 L232.72,305.18 L236.38,306.34 L240.04,307.54 L243.71,308.79 L247.37,310.09 L251.04,311.42 L254.7,312.8 L258.37,314.22 L262.03,315.69 L265.7,317.2 L269.36,318.75 L273.03,320.35 L276.69,321.99 L280.35,323.68 L284.02,325.4 L287.68,327.18 L291.35,328.99 L295.01,330.85 L298.68,332.75 L302.34,334.7 L306.01,336.69 L309.67,338.72 L313.34,340.8 L317,342.92" fill="none" stroke="#38a862" stroke-width="1.25"/>
<path d="M27.5,293.59 L31.16,291.91 L34.83,290.27 L38.49,288.67 L42.16,287.1 L45.82,285.58 L49.49,284.1 L53.15,282.65 L56.82,281.25 L60.48,279.88 L64.15,278.56 L67.81,277.27 L71.47,276.03 L75.14,274.82 L78.8,273.66 L82.47,272.53 L86.13,271.44 L89.8,270.4 L93.46,269.39 L97.13,268.42 L100.79,267.49 L104.46,266.61 L108.12,265.76 L111.78,264.95 L115.45,264.18 L119.11,263.45 L122.78,262.76 L126.44,262.11 L130.11,261.5 L133.77,260.93 L137.44,260.4 L141.1,259.91 L144.77,259.46 L148.43,259.05 L152.09,258.67 L155.76,258.34 L159.42,258.05 L163.09,257.8 L166.75,257.58 L170.42,257.41 L174.08,257.28 L177.75,257.18 L181.41,257.13 L185.08,257.11 L188.74,257.14 L192.41,257.2 L196.07,257.31 L199.73,257.45 L203.4,257.64 L207.06,257.86 L210.73,258.12 L214.39,258.43 L218.06,258.77 L221.72,259.15 L225.39,259.58 L229.05,260.04 L232.72,260.54 L236.38,261.08 L240.04,261.66 L243.71,262.28 L247.37,262.94 L251.04,263.64 L254.7,264.38 L258.37,265.16 L262.03,265.98 L265.7,266.84 L269.36,267.74 L273.03,268.68 L276.69,269.66 L280.35,270.67 L284.02,271.73 L287.68,272.83 L291.35,273.97 L295.01,275.14 L298.68,276.36 L302.34,277.61 L306.01,278.91 L309.67,280.25 L313.34,281.62 L317,283.04" fill="none" stroke="#80c8ec" stroke-width="1.25"/>
<path d="M27.5,282.55 L31.16,280.9 L34.83,279.27 L38.49,277.68 L42.16,276.12 L45.82,274.6 L49.49,273.11 L53.15,271.66 L56.82,270.23 L60.48,268.85 L64.15,267.49 L67.81,266.17 L71.47,264.88 L75.14,263.63 L78.8,262.41 L82.47,261.23 L86.13,260.08 L89.8,258.96 L93.46,257.87 L97.13,256.82 L100.79,255.81 L104.46,254.83 L108.12,253.88 L111.78,252.96 L115.45,252.08 L119.11,251.23 L122.78,250.42 L126.44,249.64 L130.11,248.89 L133.77,248.18 L137.44,247.5 L141.1,246.86 L144.77,246.25 L148.43,245.67 L152.09,245.13 L155.76,244.62 L159.42,244.14 L163.09,243.7 L166.75,243.29 L170.42,242.92 L174.08,242.58 L177.75,242.27 L181.41,242 L185.08,241.76 L188.74,241.55 L192.41,241.38 L196.07,241.24 L199.73,241.14 L203.4,241.07 L207.06,241.03 L210.73,241.03 L214.39,241.06 L218.06,241.13 L221.72,241.22 L225.39,241.36 L229.05,241.52 L232.72,241.72 L236.38,241.96 L240.04,242.22 L243.71,242.53 L247.37,242.86 L251.04,243.23 L254.7,243.63 L258.37,244.07 L262.03,244.54 L265.7,245.04 L269.36,245.58 L273.03,246.15 L276.69,246.76 L280.35,247.4 L284.02,248.07 L287.68,248.78 L291.35,249.52 L295.01,250.29 L298.68,251.1 L302.34,251.94 L306.01,252.82 L309.67,253.73 L313.34,254.67 L317,255.65" fill="none" stroke="#4682c0" stroke-width="1.25"/>
<path d="M27.5,276.43 L31.16,274.82 L34.83,273.24 L38.49,271.68 L42.16,270.16 L45.82,268.67 L49.49,267.2 L53.15,265.77 L56.82,264.37 L60.48,262.99 L64.15,261.65 L67.81,260.33 L71.47,259.04 L75.14,257.79 L78.8,256.56 L82.47,255.36 L86.13,254.19 L89.8,253.06 L93.46,251.95 L97.13,250.87 L100.79,249.82 L104.46,248.8 L108.12,247.81 L111.78,246.85 L115.45,245.91 L119.11,245.01 L122.78,244.14 L126.44,243.3 L130.11,242.48 L133.77,241.7 L137.44,240.95 L141.1,240.22 L144.77,239.53 L148.43,238.86 L152.09,238.22 L155.76,237.62 L159.42,237.04 L163.09,236.49 L166.75,235.98 L170.42,235.49 L174.08,235.03 L177.75,234.6 L181.41,234.2 L185.08,233.83 L188.74,233.49 L192.41,233.18 L196.07,232.9 L199.73,232.65 L203.4,232.42 L207.06,232.23 L210.73,232.07 L214.39,231.94 L218.06,231.83 L221.72,231.76 L225.39,231.71 L229.05,231.7 L232.72,231.71 L236.38,231.76 L240.04,231.83 L243.71,231.93 L247.37,232.06 L251.04,232.23 L254.7,232.42 L258.37,232.64 L262.03,232.89 L265.7,233.17 L269.36,233.48 L273.03,233.82 L276.69,234.19 L280.35,234.59 L284.02,235.02 L287.68,235.47 L291.35,235.96 L295.01,236.48 L298.68,237.02 L302.34,237.6 L306.01,238.21 L309.67,238.84 L313.34,239.51 L317,240.2" fill="none" stroke="#1c1c8e" stroke-width="1.25"/>
<path d="M27.5,266.81 L31.16,265.42 L34.83,264.06 L38.49,262.71 L42.16,261.39 L45.82,260.09 L49.49,258.81 L53.15,257.55 L56.82,256.31 L60.48,255.1 L64.15,253.9 L67.81,252.73 L71.47,251.58 L75.14,250.45 L78.8,249.35 L82.47,248.26 L86.13,247.2 L89.8,246.15 L93.46,245.13 L97.13,244.13 L100.79,243.15 L104.46,242.2 L108.12,241.26 L111.78,240.35 L115.45,239.46 L119.11,238.59 L122.78,237.74 L126.44,236.91 L130.11,236.1 L133.77,235.32 L137.44,234.56 L141.1,233.82 L144.77,233.1 L148.43,232.4 L152.09,231.72 L155.76,231.07 L159.42,230.43 L163.09,229.82 L166.75,229.23 L170.42,228.66 L174.08,228.11 L177.75,227.59 L181.41,227.08 L185.08,226.6 L188.74,226.14 L192.41,225.7 L196.07,225.28 L199.73,224.88 L203.4,224.51 L207.06,224.15 L210.73,223.82 L214.39,223.51 L218.06,223.22 L221.72,222.95 L225.39,222.71 L229.05,222.48 L232.72,222.28 L236.38,222.1 L240.04,221.94 L243.71,221.8 L247.37,221.68 L251.04,221.59 L254.7,221.51 L258.37,221.46 L262.03,221.43 L265.7,221.42 L269.36,221.43 L273.03,221.46 L276.69,221.52 L280.35,221.6 L284.02,221.7 L287.68,221.81 L291.35,221.96 L295.01,222.12 L298.68,222.3 L302.34,222.51 L306.01,222.74 L309.67,222.99 L313.34,223.26 L317,223.55" fill="none" stroke="#8e1c9a" stroke-width="1.25"/>
<path d="M235.3,276.2 V356 M233.9,276.2 h2.8" stroke="#74c490" stroke-width="0.8"/>
<path d="M174.4,263 V356 M173,263 h2.8" stroke="#f9ccd8" stroke-width="0.9"/>
<path d="M56,324 V330 M54.8,324 h2.4 M54.8,330 h2.4" stroke="#f6b8c6" stroke-width="0.7"/>
<rect x="54.7" y="325.5" width="2.6" height="3.2" fill="#f6b8c6"/>
<path d="M72.2,321.2 V330.6 M71,321.2 h2.4 M71,330.6 h2.4" stroke="#f6b8c6" stroke-width="0.7"/>
<rect x="70.9" y="323.8" width="2.6" height="3.2" fill="#f6b8c6"/>
<path d="M90.7,309.3 V326 M89.5,309.3 h2.4 M89.5,326 h2.4" stroke="#f6b8c6" stroke-width="0.7"/>
<rect x="89.4" y="314.8" width="2.6" height="3.2" fill="#f6b8c6"/>
<path d="M111,301.4 V317.2 M109.8,301.4 h2.4 M109.8,317.2 h2.4" stroke="#f6b8c6" stroke-width="0.7"/>
<rect x="109.7" y="305.5" width="2.6" height="3.2" fill="#f6b8c6"/>
<path d="M137.1,279.4 V293.6 M135.9,279.4 h2.4 M135.9,293.6 h2.4" stroke="#f6b8c6" stroke-width="0.7"/>
<rect x="135.8" y="283.5" width="2.6" height="3.2" fill="#f6b8c6"/>
<rect x="173.1" y="271" width="2.6" height="3.2" fill="#f6b8c6"/>
<path d="M235.4,236.6 V248 M234.2,236.6 h2.4 M234.2,248 h2.4" stroke="#f6b8c6" stroke-width="0.7"/>
<rect x="234.1" y="240.7" width="2.6" height="3.2" fill="#f6b8c6"/>
<path d="M72.5,290 V295 M71.3,290 h2.4 M71.3,295 h2.4" stroke="#eaa640" stroke-width="0.7"/>
<rect x="71.2" y="290.5" width="2.6" height="3.6" fill="#eaa640"/>
<path d="M90.7,289.5 V295 M89.5,289.5 h2.4 M89.5,295 h2.4" stroke="#eaa640" stroke-width="0.7"/>
<rect x="89.4" y="290.4" width="2.6" height="3.6" fill="#eaa640"/>
<path d="M111,284 V289.5 M109.8,284 h2.4 M109.8,289.5 h2.4" stroke="#eaa640" stroke-width="0.7"/>
<rect x="109.7" y="284.8" width="2.6" height="3.6" fill="#eaa640"/>
<path d="M139,270 V275.6 M137.8,270 h2.4 M137.8,275.6 h2.4" stroke="#eaa640" stroke-width="0.7"/>
<rect x="137.7" y="270.6" width="2.6" height="3.6" fill="#eaa640"/>
<path d="M178,264 V274.6 M176.8,264 h2.4 M176.8,274.6 h2.4" stroke="#eaa640" stroke-width="0.7"/>
<rect x="176.7" y="268.4" width="2.6" height="3.6" fill="#eaa640"/>
<path d="M242.3,249.5 V255.5 M241.1,249.5 h2.4 M241.1,255.5 h2.4" stroke="#eaa640" stroke-width="0.7"/>
<rect x="241" y="250.8" width="2.6" height="3.6" fill="#eaa640"/>
<rect x="55.1" y="285.9" width="2.8" height="3.6" fill="#ee1111"/>
<rect x="71.1" y="275.7" width="2.8" height="3.6" fill="#ee1111"/>
<rect x="89.3" y="277.3" width="2.8" height="3.6" fill="#ee1111"/>
<path d="M111,275.5 V280.5 M109.8,275.5 h2.4 M109.8,280.5 h2.4" stroke="#ee1111" stroke-width="0.7"/>
<rect x="109.6" y="276.1" width="2.8" height="3.6" fill="#ee1111"/>
<path d="M139,259 V264 M137.8,259 h2.4 M137.8,264 h2.4" stroke="#ee1111" stroke-width="0.7"/>
<rect x="137.6" y="259.4" width="2.8" height="3.6" fill="#ee1111"/>
<rect x="176.6" y="249.2" width="2.8" height="3.6" fill="#ee1111"/>
<path d="M242.3,242.5 V248 M241.1,242.5 h2.4 M241.1,248 h2.4" stroke="#ee1111" stroke-width="0.7"/>
<rect x="240.9" y="243.5" width="2.8" height="3.6" fill="#ee1111"/>
<circle cx="55.9" cy="303.1" r="2.35" fill="#fff" stroke="#38a862" stroke-width="0.95"/>
<path d="M54.5,302.35 h2.8 M54.5,303.85 h2.8" stroke="#38a862" stroke-width="0.75"/>
<circle cx="72" cy="309.4" r="2.35" fill="#fff" stroke="#38a862" stroke-width="0.95"/>
<path d="M70.6,308.65 h2.8 M70.6,310.15 h2.8" stroke="#38a862" stroke-width="0.75"/>
<circle cx="90.7" cy="300.4" r="2.35" fill="#fff" stroke="#38a862" stroke-width="0.95"/>
<path d="M89.3,299.65 h2.8 M89.3,301.15 h2.8" stroke="#38a862" stroke-width="0.75"/>
<circle cx="111" cy="301.4" r="2.35" fill="#fff" stroke="#38a862" stroke-width="0.95"/>
<path d="M109.6,300.65 h2.8 M109.6,302.15 h2.8" stroke="#38a862" stroke-width="0.75"/>
<circle cx="137.3" cy="284.2" r="2.35" fill="#fff" stroke="#38a862" stroke-width="0.95"/>
<path d="M135.9,283.45 h2.8 M135.9,284.95 h2.8" stroke="#38a862" stroke-width="0.75"/>
<circle cx="55" cy="279.6" r="2.35" fill="#fff" stroke="#80c8ec" stroke-width="0.95"/>
<path d="M53.6,278.85 h2.8 M53.6,280.35 h2.8" stroke="#80c8ec" stroke-width="0.75"/>
<circle cx="72.5" cy="276.4" r="2.35" fill="#fff" stroke="#80c8ec" stroke-width="0.95"/>
<path d="M71.1,275.65 h2.8 M71.1,277.15 h2.8" stroke="#80c8ec" stroke-width="0.75"/>
<circle cx="90.7" cy="272.7" r="2.35" fill="#fff" stroke="#80c8ec" stroke-width="0.95"/>
<path d="M89.3,271.95 h2.8 M89.3,273.45 h2.8" stroke="#80c8ec" stroke-width="0.75"/>
<circle cx="110.9" cy="265.7" r="2.35" fill="#fff" stroke="#80c8ec" stroke-width="0.95"/>
<path d="M109.5,264.95 h2.8 M109.5,266.45 h2.8" stroke="#80c8ec" stroke-width="0.75"/>
<circle cx="139" cy="257.6" r="2.35" fill="#fff" stroke="#80c8ec" stroke-width="0.95"/>
<path d="M137.6,256.85 h2.8 M137.6,258.35 h2.8" stroke="#80c8ec" stroke-width="0.75"/>
<circle cx="178" cy="256.4" r="2.35" fill="#fff" stroke="#80c8ec" stroke-width="0.95"/>
<path d="M176.6,255.65 h2.8 M176.6,257.15 h2.8" stroke="#80c8ec" stroke-width="0.75"/>
<circle cx="242" cy="263.5" r="2.35" fill="#fff" stroke="#80c8ec" stroke-width="0.95"/>
<path d="M240.6,262.75 h2.8 M240.6,264.25 h2.8" stroke="#80c8ec" stroke-width="0.75"/>
<circle cx="55" cy="267.7" r="2.35" fill="#fff" stroke="#4682c0" stroke-width="0.95"/>
<path d="M53.6,266.95 h2.8 M53.6,268.45 h2.8" stroke="#4682c0" stroke-width="0.75"/>
<circle cx="71.5" cy="267" r="2.35" fill="#fff" stroke="#4682c0" stroke-width="0.95"/>
<path d="M70.1,266.25 h2.8 M70.1,267.75 h2.8" stroke="#4682c0" stroke-width="0.75"/>
<circle cx="91.4" cy="260" r="2.35" fill="#fff" stroke="#4682c0" stroke-width="0.95"/>
<path d="M90,259.25 h2.8 M90,260.75 h2.8" stroke="#4682c0" stroke-width="0.75"/>
<circle cx="110.9" cy="253.4" r="2.35" fill="#fff" stroke="#4682c0" stroke-width="0.95"/>
<path d="M109.5,252.65 h2.8 M109.5,254.15 h2.8" stroke="#4682c0" stroke-width="0.75"/>
<circle cx="139" cy="246" r="2.35" fill="#fff" stroke="#4682c0" stroke-width="0.95"/>
<path d="M137.6,245.25 h2.8 M137.6,246.75 h2.8" stroke="#4682c0" stroke-width="0.75"/>
<circle cx="178" cy="243" r="2.35" fill="#fff" stroke="#4682c0" stroke-width="0.95"/>
<path d="M176.6,242.25 h2.8 M176.6,243.75 h2.8" stroke="#4682c0" stroke-width="0.75"/>
<circle cx="242" cy="241.1" r="2.35" fill="#fff" stroke="#4682c0" stroke-width="0.95"/>
<path d="M240.6,240.35 h2.8 M240.6,241.85 h2.8" stroke="#4682c0" stroke-width="0.75"/>
<circle cx="55" cy="264.3" r="2.35" fill="#fff" stroke="#1c1c8e" stroke-width="0.95"/>
<path d="M53.6,263.55 h2.8 M53.6,265.05 h2.8" stroke="#1c1c8e" stroke-width="0.75"/>
<circle cx="71.5" cy="260.6" r="2.35" fill="#fff" stroke="#1c1c8e" stroke-width="0.95"/>
<path d="M70.1,259.85 h2.8 M70.1,261.35 h2.8" stroke="#1c1c8e" stroke-width="0.75"/>
<circle cx="91.4" cy="254.3" r="2.35" fill="#fff" stroke="#1c1c8e" stroke-width="0.95"/>
<path d="M90,253.55 h2.8 M90,255.05 h2.8" stroke="#1c1c8e" stroke-width="0.75"/>
<circle cx="110.9" cy="246.3" r="2.35" fill="#fff" stroke="#1c1c8e" stroke-width="0.95"/>
<path d="M109.5,245.55 h2.8 M109.5,247.05 h2.8" stroke="#1c1c8e" stroke-width="0.75"/>
<circle cx="139" cy="239" r="2.35" fill="#fff" stroke="#1c1c8e" stroke-width="0.95"/>
<path d="M137.6,238.25 h2.8 M137.6,239.75 h2.8" stroke="#1c1c8e" stroke-width="0.75"/>
<circle cx="178" cy="236" r="2.35" fill="#fff" stroke="#1c1c8e" stroke-width="0.95"/>
<path d="M176.6,235.25 h2.8 M176.6,236.75 h2.8" stroke="#1c1c8e" stroke-width="0.75"/>
<circle cx="242" cy="232" r="2.35" fill="#fff" stroke="#1c1c8e" stroke-width="0.95"/>
<path d="M240.6,231.25 h2.8 M240.6,232.75 h2.8" stroke="#1c1c8e" stroke-width="0.75"/>
<circle cx="55" cy="255.1" r="2.35" fill="#fff" stroke="#8e1c9a" stroke-width="0.95"/>
<path d="M53.6,254.35 h2.8 M53.6,255.85 h2.8" stroke="#8e1c9a" stroke-width="0.75"/>
<circle cx="71.5" cy="254" r="2.35" fill="#fff" stroke="#8e1c9a" stroke-width="0.95"/>
<path d="M70.1,253.25 h2.8 M70.1,254.75 h2.8" stroke="#8e1c9a" stroke-width="0.75"/>
<circle cx="91.4" cy="246.3" r="2.35" fill="#fff" stroke="#8e1c9a" stroke-width="0.95"/>
<path d="M90,245.55 h2.8 M90,247.05 h2.8" stroke="#8e1c9a" stroke-width="0.75"/>
<circle cx="110.9" cy="240.9" r="2.35" fill="#fff" stroke="#8e1c9a" stroke-width="0.95"/>
<path d="M109.5,240.15 h2.8 M109.5,241.65 h2.8" stroke="#8e1c9a" stroke-width="0.75"/>
<circle cx="139" cy="232" r="2.35" fill="#fff" stroke="#8e1c9a" stroke-width="0.95"/>
<path d="M137.6,231.25 h2.8 M137.6,232.75 h2.8" stroke="#8e1c9a" stroke-width="0.75"/>
<circle cx="178" cy="227.4" r="2.35" fill="#fff" stroke="#8e1c9a" stroke-width="0.95"/>
<path d="M176.6,226.65 h2.8 M176.6,228.15 h2.8" stroke="#8e1c9a" stroke-width="0.75"/>
<circle cx="242" cy="221.5" r="2.35" fill="#fff" stroke="#8e1c9a" stroke-width="0.95"/>
<path d="M240.6,220.75 h2.8 M240.6,222.25 h2.8" stroke="#8e1c9a" stroke-width="0.75"/>
<circle cx="235.3" cy="287.1" r="2.4" fill="#fff" stroke="#38a862" stroke-width="1.1"/>
</g>
<rect x="27.5" y="158.2" width="289.5" height="196" fill="none" stroke="#8a8a8a" stroke-width="1.3"/>
<path d="M27.5,354.2 h2.5 M317,354.2 h-2.5" stroke="#8a8a8a" stroke-width="0.7"/>
<text x="25.6" y="357.1" font-family='"Liberation Serif", serif' font-size="8.2" text-anchor="end" font-weight="normal" font-style="normal" fill="#333" >8</text>
<path d="M27.5,321.53 h2.5 M317,321.53 h-2.5" stroke="#8a8a8a" stroke-width="0.7"/>
<text x="25.6" y="324.43" font-family='"Liberation Serif", serif' font-size="8.2" text-anchor="end" font-weight="normal" font-style="normal" fill="#333" >9</text>
<path d="M27.5,288.87 h2.5 M317,288.87 h-2.5" stroke="#8a8a8a" stroke-width="0.7"/>
<text x="25.6" y="291.77" font-family='"Liberation Serif", serif' font-size="8.2" text-anchor="end" font-weight="normal" font-style="normal" fill="#333" >10</text>
<path d="M27.5,256.2 h2.5 M317,256.2 h-2.5" stroke="#8a8a8a" stroke-width="0.7"/>
<text x="25.6" y="259.1" font-family='"Liberation Serif", serif' font-size="8.2" text-anchor="end" font-weight="normal" font-style="normal" fill="#333" >11</text>
<path d="M27.5,223.53 h2.5 M317,223.53 h-2.5" stroke="#8a8a8a" stroke-width="0.7"/>
<text x="25.6" y="226.43" font-family='"Liberation Serif", serif' font-size="8.2" text-anchor="end" font-weight="normal" font-style="normal" fill="#333" >12</text>
<path d="M27.5,190.87 h2.5 M317,190.87 h-2.5" stroke="#8a8a8a" stroke-width="0.7"/>
<text x="25.6" y="193.77" font-family='"Liberation Serif", serif' font-size="8.2" text-anchor="end" font-weight="normal" font-style="normal" fill="#333" >13</text>
<path d="M27.5,158.2 h2.5 M317,158.2 h-2.5" stroke="#8a8a8a" stroke-width="0.7"/>
<text x="25.6" y="161.1" font-family='"Liberation Serif", serif' font-size="8.2" text-anchor="end" font-weight="normal" font-style="normal" fill="#333" >14</text>
<text x="318.4" y="161.3" font-family='"Liberation Sans", sans-serif' font-size="8.6" text-anchor="start" font-weight="normal" font-style="normal" fill="#111" stroke="#111" stroke-width="0.12">4.0</text>
<text x="318.4" y="193.97" font-family='"Liberation Sans", sans-serif' font-size="8.6" text-anchor="start" font-weight="normal" font-style="normal" fill="#111" stroke="#111" stroke-width="0.12">3.0</text>
<text x="318.4" y="226.63" font-family='"Liberation Sans", sans-serif' font-size="8.6" text-anchor="start" font-weight="normal" font-style="normal" fill="#111" stroke="#111" stroke-width="0.12">2.0</text>
<text x="318.4" y="259.3" font-family='"Liberation Sans", sans-serif' font-size="8.6" text-anchor="start" font-weight="normal" font-style="normal" fill="#111" stroke="#111" stroke-width="0.12">1.0</text>
<text x="318.4" y="291.97" font-family='"Liberation Sans", sans-serif' font-size="8.6" text-anchor="start" font-weight="normal" font-style="normal" fill="#111" stroke="#111" stroke-width="0.12">0.0</text>
<text x="318.4" y="324.63" font-family='"Liberation Sans", sans-serif' font-size="8.6" text-anchor="start" font-weight="normal" font-style="normal" fill="#111" stroke="#111" stroke-width="0.12">-1.0</text>
<path d="M27.5,354.2 v-2.5 M27.5,158.2 v2.5" stroke="#8a8a8a" stroke-width="0.7"/>
<text x="27.5" y="367.2" font-family='"Liberation Serif", serif' font-size="8.4" text-anchor="middle" font-weight="normal" font-style="normal" fill="#333" >0.0</text>
<path d="M75.75,354.2 v-2.5 M75.75,158.2 v2.5" stroke="#8a8a8a" stroke-width="0.7"/>
<text x="75.75" y="367.2" font-family='"Liberation Serif", serif' font-size="8.4" text-anchor="middle" font-weight="normal" font-style="normal" fill="#333" >0.5</text>
<path d="M124,354.2 v-2.5 M124,158.2 v2.5" stroke="#8a8a8a" stroke-width="0.7"/>
<text x="124" y="367.2" font-family='"Liberation Serif", serif' font-size="8.4" text-anchor="middle" font-weight="normal" font-style="normal" fill="#333" >1.0</text>
<path d="M172.25,354.2 v-2.5 M172.25,158.2 v2.5" stroke="#8a8a8a" stroke-width="0.7"/>
<text x="172.25" y="367.2" font-family='"Liberation Serif", serif' font-size="8.4" text-anchor="middle" font-weight="normal" font-style="normal" fill="#333" >1.5</text>
<path d="M220.5,354.2 v-2.5 M220.5,158.2 v2.5" stroke="#8a8a8a" stroke-width="0.7"/>
<text x="220.5" y="367.2" font-family='"Liberation Serif", serif' font-size="8.4" text-anchor="middle" font-weight="normal" font-style="normal" fill="#333" >2.0</text>
<path d="M268.75,354.2 v-2.5 M268.75,158.2 v2.5" stroke="#8a8a8a" stroke-width="0.7"/>
<text x="268.75" y="367.2" font-family='"Liberation Serif", serif' font-size="8.4" text-anchor="middle" font-weight="normal" font-style="normal" fill="#333" >2.5</text>
<path d="M317,354.2 v-2.5 M317,158.2 v2.5" stroke="#8a8a8a" stroke-width="0.7"/>
<text x="317" y="367.2" font-family='"Liberation Serif", serif' font-size="8.4" text-anchor="middle" font-weight="normal" font-style="normal" fill="#333" >3.0</text>
<text transform="translate(172,382) skewX(-14)" x="0" y="0" font-family='"Liberation Serif", serif' font-size="15.5" text-anchor="middle" font-style="italic" fill="#111" stroke="#fff" stroke-width="0.3">z</text>
<text transform="translate(11.2,257.4) rotate(-90)" x="0" y="0" text-anchor="middle" font-family='"Liberation Serif", serif' font-size="12.6" fill="#111" stroke="#fff" stroke-width="0.22" textLength="65.5" lengthAdjust="spacingAndGlyphs">log(<tspan font-style="italic">L</tspan><tspan font-size="9" dy="2.2">IR</tspan><tspan dy="-2.2">/</tspan><tspan font-style="italic">L</tspan><tspan font-size="9.5" dy="1.6">ʘ</tspan><tspan dy="-1.6">)</tspan></text>
<text transform="translate(346.6,257.2) rotate(-90)" x="0" y="0" text-anchor="middle" font-family='"Liberation Serif", serif' font-size="12.8" fill="#111" stroke="#fff" stroke-width="0.22" textLength="101" lengthAdjust="spacingAndGlyphs">log(SFR/[M<tspan font-size="9.5" dy="1.6">ʘ</tspan><tspan dy="-1.6">yr</tspan><tspan font-size="8.5" dy="-4.5">−1</tspan><tspan dy="4.5">])</tspan></text>
<text x="82.8" y="168.8" font-family='"Liberation Sans", sans-serif' font-size="6.7" text-anchor="middle" font-weight="normal" font-style="normal" fill="#111" textLength="33.6" lengthAdjust="spacingAndGlyphs" stroke="#111" stroke-width="0.12">star-forming</text>
<path d="M40,173.4 V179.8" stroke="#8e1c9a" stroke-width="0.9" fill="none"/>
<path d="M38.5,173.4 h3 M38.5,179.8 h3" stroke="#8e1c9a" stroke-width="0.9" fill="none"/>
<circle cx="40" cy="176.6" r="2.1" fill="#fff" stroke="#8e1c9a" stroke-width="1.1"/>
<text x="51.6" y="178.7" font-family='"Liberation Serif", serif' font-size="7.3" text-anchor="start" font-weight="normal" font-style="normal" fill="#111" textLength="84.8" lengthAdjust="spacingAndGlyphs" stroke="#111" stroke-width="0.12">log(<tspan font-style="italic">M</tspan><tspan font-size="4.6" dy="1.2">*</tspan><tspan dy="-1.2">/M<tspan font-size="4.4" dy="1.3">ʘ</tspan><tspan dy="-1.3">) = 10.5 − 13.0</tspan></tspan></text>
<path d="M40,183.05 V189.45" stroke="#1c1c8e" stroke-width="0.9" fill="none"/>
<path d="M38.5,183.05 h3 M38.5,189.45 h3" stroke="#1c1c8e" stroke-width="0.9" fill="none"/>
<circle cx="40" cy="186.25" r="2.1" fill="#fff" stroke="#1c1c8e" stroke-width="1.1"/>
<text x="51.6" y="188.35" font-family='"Liberation Serif", serif' font-size="7.3" text-anchor="start" font-weight="normal" font-style="normal" fill="#111" textLength="84.4" lengthAdjust="spacingAndGlyphs" stroke="#111" stroke-width="0.12">log(<tspan font-style="italic">M</tspan><tspan font-size="4.6" dy="1.2">*</tspan><tspan dy="-1.2">/M<tspan font-size="4.4" dy="1.3">ʘ</tspan><tspan dy="-1.3">) = 10.2 − 10.5</tspan></tspan></text>
<path d="M40,192.7 V199.1" stroke="#4682c0" stroke-width="0.9" fill="none"/>
<path d="M38.5,192.7 h3 M38.5,199.1 h3" stroke="#4682c0" stroke-width="0.9" fill="none"/>
<circle cx="40" cy="195.9" r="2.1" fill="#fff" stroke="#4682c0" stroke-width="1.1"/>
<text x="51.6" y="198" font-family='"Liberation Serif", serif' font-size="7.3" text-anchor="start" font-weight="normal" font-style="normal" fill="#111" textLength="84.4" lengthAdjust="spacingAndGlyphs" stroke="#111" stroke-width="0.12">log(<tspan font-style="italic">M</tspan><tspan font-size="4.6" dy="1.2">*</tspan><tspan dy="-1.2">/M<tspan font-size="4.4" dy="1.3">ʘ</tspan><tspan dy="-1.3">) = 10.0 − 10.2</tspan></tspan></text>
<path d="M40,202.35 V208.75" stroke="#80c8ec" stroke-width="0.9" fill="none"/>
<path d="M38.5,202.35 h3 M38.5,208.75 h3" stroke="#80c8ec" stroke-width="0.9" fill="none"/>
<circle cx="40" cy="205.55" r="2.1" fill="#fff" stroke="#80c8ec" stroke-width="1.1"/>
<text x="51.6" y="207.65" font-family='"Liberation Serif", serif' font-size="7.3" text-anchor="start" font-weight="normal" font-style="normal" fill="#111" textLength="81.3" lengthAdjust="spacingAndGlyphs" stroke="#111" stroke-width="0.12">log(<tspan font-style="italic">M</tspan><tspan font-size="4.6" dy="1.2">*</tspan><tspan dy="-1.2">/M<tspan font-size="4.4" dy="1.3">ʘ</tspan><tspan dy="-1.3">) = 9.5 − 10.0</tspan></tspan></text>
<path d="M40,212 V218.4" stroke="#38a862" stroke-width="0.9" fill="none"/>
<path d="M38.5,212 h3 M38.5,218.4 h3" stroke="#38a862" stroke-width="0.9" fill="none"/>
<circle cx="40" cy="215.2" r="2.1" fill="#fff" stroke="#38a862" stroke-width="1.1"/>
<text x="51.6" y="217.3" font-family='"Liberation Serif", serif' font-size="7.3" text-anchor="start" font-weight="normal" font-style="normal" fill="#111" textLength="77.7" lengthAdjust="spacingAndGlyphs" stroke="#111" stroke-width="0.12">log(<tspan font-style="italic">M</tspan><tspan font-size="4.6" dy="1.2">*</tspan><tspan dy="-1.2">/M<tspan font-size="4.4" dy="1.3">ʘ</tspan><tspan dy="-1.3">) = 8.5 − 9.5</tspan></tspan></text>
<text x="262.9" y="168.8" font-family='"Liberation Sans", sans-serif' font-size="6.7" text-anchor="middle" font-weight="normal" font-style="normal" fill="#111" textLength="26.4" lengthAdjust="spacingAndGlyphs" stroke="#111" stroke-width="0.12">quiescent</text>
<path d="M214.4,173.5 V179.5 M213.2,173.5 h2.4 M213.2,179.5 h2.4" stroke="#ee1111" stroke-width="0.7"/>
<rect x="213" y="174.7" width="2.8" height="3.6" fill="#ee1111"/>
<text x="226.4" y="178.6" font-family='"Liberation Serif", serif' font-size="7.3" text-anchor="start" font-weight="normal" font-style="normal" fill="#111" textLength="85" lengthAdjust="spacingAndGlyphs" stroke="#111" stroke-width="0.12">log(<tspan font-style="italic">M</tspan><tspan font-size="4.6" dy="1.2">*</tspan><tspan dy="-1.2">/M<tspan font-size="4.4" dy="1.3">ʘ</tspan><tspan dy="-1.3">) = 11.0 − 13.0</tspan></tspan></text>
<path d="M214.4,183.15 V189.15 M213.2,183.15 h2.4 M213.2,189.15 h2.4" stroke="#eaa640" stroke-width="0.7"/>
<rect x="213" y="184.35" width="2.8" height="3.6" fill="#eaa640"/>
<text x="226.4" y="188.25" font-family='"Liberation Serif", serif' font-size="7.3" text-anchor="start" font-weight="normal" font-style="normal" fill="#111" textLength="85" lengthAdjust="spacingAndGlyphs" stroke="#111" stroke-width="0.12">log(<tspan font-style="italic">M</tspan><tspan font-size="4.6" dy="1.2">*</tspan><tspan dy="-1.2">/M<tspan font-size="4.4" dy="1.3">ʘ</tspan><tspan dy="-1.3">) = 10.0 − 11.0</tspan></tspan></text>
<path d="M214.4,192.8 V198.8 M213.2,192.8 h2.4 M213.2,198.8 h2.4" stroke="#f6b8c6" stroke-width="0.7"/>
<rect x="213" y="194" width="2.8" height="3.6" fill="#f6b8c6"/>
<text x="226.4" y="197.9" font-family='"Liberation Serif", serif' font-size="7.3" text-anchor="start" font-weight="normal" font-style="normal" fill="#111" textLength="81" lengthAdjust="spacingAndGlyphs" stroke="#111" stroke-width="0.12">log(<tspan font-style="italic">M</tspan><tspan font-size="4.6" dy="1.2">*</tspan><tspan dy="-1.2">/M<tspan font-size="4.4" dy="1.3">ʘ</tspan><tspan dy="-1.3">) = 8.5 − 10.0</tspan></tspan></text>
</svg>
</body></html>
